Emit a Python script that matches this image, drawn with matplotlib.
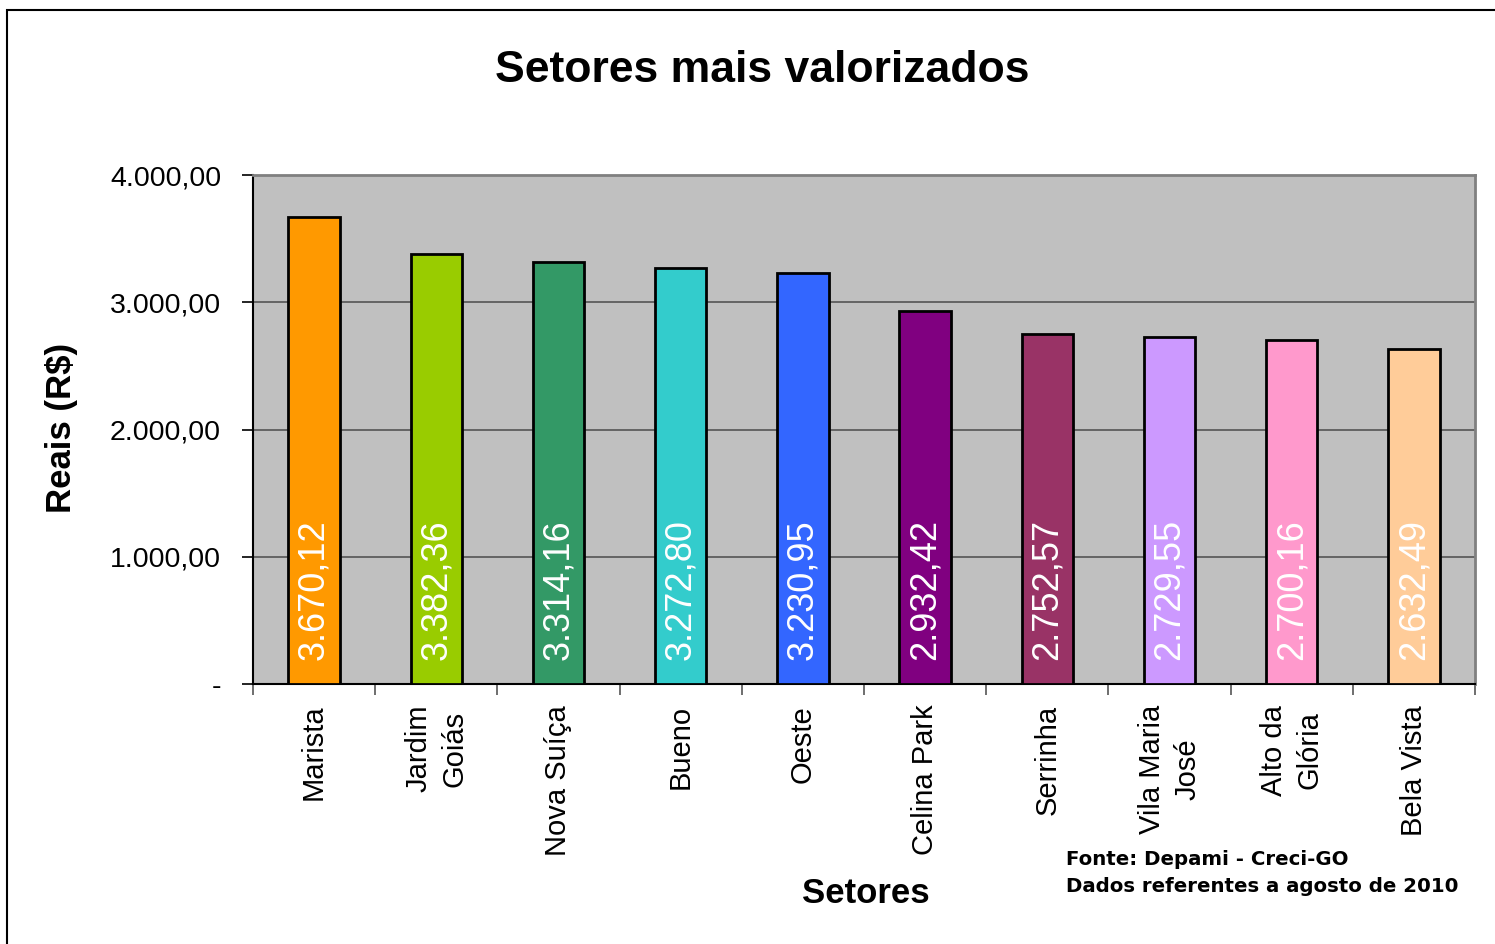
import matplotlib
matplotlib.use("Agg")
import matplotlib.pyplot as plt
from matplotlib.patches import Rectangle

plt.rcParams['font.family'] = ['Liberation Sans', 'DejaVu Sans']

# data
setores = ["Marista", "Jardim\nGoiás", "Nova Suíça", "Bueno", "Oeste",
           "Celina Park", "Serrinha", "Vila Maria\nJosé", "Alto da\nGlória", "Bela Vista"]
valores = [3670.12, 3382.36, 3314.16, 3272.80, 3230.95,
           2932.42, 2752.57, 2729.55, 2700.16, 2632.49]
rotulos = ["3.670,12", "3.382,36", "3.314,16", "3.272,80", "3.230,95",
           "2.932,42", "2.752,57", "2.729,55", "2.700,16", "2.632,49"]
cores = ["#FF9900", "#99CC00", "#339966", "#33CCCC", "#3366FF",
         "#800080", "#993366", "#CC99FF", "#FF99CC", "#FFCC99"]
y_ticks = [0, 1000, 2000, 3000, 4000]
y_labels = ["-", "1.000,00", "2.000,00", "3.000,00", "4.000,00"]

fig = plt.figure(figsize=(14.95, 9.44), dpi=100)
ax = fig.add_axes([0.1692, 0.2754, 0.8174, 0.5392])
ax.set_facecolor("#C0C0C0")

x = list(range(len(setores)))
ax.bar(x, valores, width=0.42, color=cores, edgecolor="black", linewidth=2, zorder=3)

# value labels inside the bars
for xi, txt in zip(x, rotulos):
    ax.annotate(txt, (xi, 0), xytext=(0, 17), textcoords="offset points",
                rotation=90, ha="center", va="bottom", color="white", fontsize=26, zorder=4)

ax.set_xlim(-0.5, len(setores) - 0.5)
ax.set_ylim(0, 4000)
ax.set_yticks(y_ticks)
ax.set_yticklabels(y_labels, fontsize=20.5)
ax.yaxis.grid(True, color="#555555", linewidth=1.2, zorder=1)
ax.set_axisbelow(True)

# category labels centred, ticks at the boundaries
ax.set_xticks([i + 0.5 for i in range(-1, len(setores))])
ax.set_xticklabels([])
ax.set_xticks(x, minor=True)
ax.set_xticklabels(setores, minor=True, rotation=90, fontsize=21,
                   ha="center", va="top", multialignment="center", linespacing=1.35)
ax.tick_params(axis="x", which="minor", length=0, pad=15)
ax.tick_params(axis="x", which="major", length=8, width=1.2, direction="out", color="#555555")
ax.tick_params(axis="y", length=8, width=1.2, direction="out", pad=15)

for s in ["top", "right"]:
    ax.spines[s].set_color("#808080")
    ax.spines[s].set_linewidth(2)
for s in ["left", "bottom"]:
    ax.spines[s].set_color("black")
    ax.spines[s].set_linewidth(1.5)

fig.text(0.51, 0.925, "Setores mais valorizados", ha="center", va="center",
         fontsize=32, fontweight="bold")
fig.text(0.041, 0.547, "Reais (R$)", ha="center", va="center", rotation=90,
         fontsize=25, fontweight="bold")
fig.text(0.579, 0.054, "Setores", ha="center", va="center",
         fontsize=25, fontweight="bold")
fig.text(0.713, 0.075, "Fonte: Depami - Creci-GO\nDados referentes a agosto de 2010",
         ha="left", va="center", fontsize=14.2, fontweight="bold",
         family="DejaVu Sans", linespacing=1.5)

# outer chart frame (cut off on the right and bottom)
fig.patches.append(Rectangle((0.0047, -0.1), 1.2, 1.0894, transform=fig.transFigure,
                             fill=False, edgecolor="black", linewidth=1.5))

fig.savefig("out.png", dpi=100)
